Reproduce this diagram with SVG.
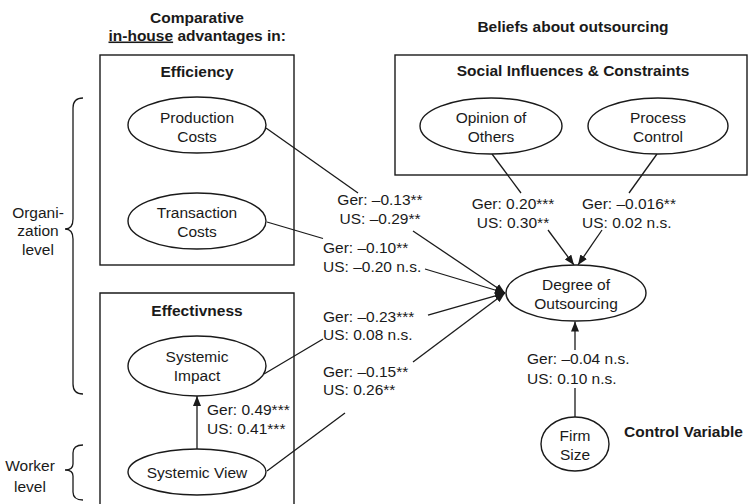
<svg xmlns="http://www.w3.org/2000/svg" width="749" height="504" viewBox="0 0 749 504">
<style>
text{font-family:"Liberation Sans",Arial,sans-serif;font-size:15.5px;fill:#1a1a1a}
.b{font-weight:bold}
.m{text-anchor:middle}
.box{fill:none;stroke:#1a1a1a;stroke-width:1.4}
.el{fill:#fff;stroke:#1a1a1a;stroke-width:1.4}
.ln{fill:none;stroke:#1a1a1a;stroke-width:1.3}
.ar{marker-end:url(#ah)}
</style>
<defs>
<marker id="ah" viewBox="0 0 10 8" refX="10" refY="4" markerWidth="10" markerHeight="8" orient="auto" markerUnits="userSpaceOnUse">
<path d="M0,0 L10,4 L0,8 z" fill="#1a1a1a"/>
</marker>
</defs>
<rect width="749" height="504" fill="#fff"/>

<g id="headers">
<text class="b m" x="197" y="22.5">Comparative</text>
<text class="b" x="108.5" y="40.5"><tspan text-decoration="underline">in-house</tspan> advantages in:</text>
<text class="b m" x="573" y="31.5">Beliefs about outsourcing</text>
<text class="b" x="624" y="436.5">Control Variable</text>
</g>

<g id="levels">
<path class="ln" d="M83,98 Q73,98 73,108 L73,219 Q73,229 65,229 Q73,229 73,239 L73,384 Q73,394 83,394"/>
<text class="m" x="38" y="217.5">Organi-</text>
<text class="m" x="38" y="236">zation</text>
<text class="m" x="38" y="254.5">level</text>
<path class="ln" d="M83,445 Q73,445 73,453 L73,464 Q73,470 65,470 Q73,470 73,476 L73,492 Q73,500 83,500"/>
<text class="m" x="30" y="470.5">Worker</text>
<text class="m" x="30" y="491.5">level</text>
</g>

<g id="efficiency">
<rect class="box" x="100" y="55" width="194" height="210"/>
<text class="b m" x="197" y="76.5">Efficiency</text>
</g>
<g id="effectiveness">
<path class="box" d="M100,510 L100,293 L294,293 L294,510"/>
<text class="b m" x="197" y="315.5">Effectivness</text>
</g>
<g id="social">
<rect class="box" x="395" y="55" width="352" height="120"/>
<text class="b m" x="573" y="75.5">Social Influences &amp; Constraints</text>
</g>

<g id="connectors">
<line class="ln" x1="266" y1="128" x2="358" y2="193"/>
<line class="ln ar" x1="413" y1="231" x2="505" y2="293"/>
<line class="ln" x1="267" y1="222" x2="323" y2="238.5"/>
<line class="ln ar" x1="425" y1="269" x2="505" y2="293"/>
<line class="ln" x1="264" y1="374" x2="323" y2="339"/>
<line class="ln ar" x1="428" y1="315" x2="505" y2="293"/>
<line class="ln" x1="267" y1="471" x2="345" y2="413"/>
<line class="ln ar" x1="413" y1="362" x2="505" y2="293"/>
<line class="ln" x1="492" y1="154" x2="521" y2="193"/>
<line class="ln ar" x1="548" y1="230" x2="574" y2="265"/>
<line class="ln" x1="657" y1="154" x2="629" y2="193"/>
<line class="ln ar" x1="602" y1="230" x2="578" y2="265"/>
<line class="ln" x1="575" y1="417" x2="575" y2="388"/>
<line class="ln ar" x1="575" y1="350" x2="575" y2="321.5"/>
<line class="ln ar" x1="197" y1="449" x2="197" y2="396"/>
</g>

<g id="production-costs">
<ellipse class="el" cx="197" cy="125" rx="69" ry="28"/>
<text class="m" x="197" y="122.5">Production</text>
<text class="m" x="197" y="141.5">Costs</text>
</g>
<g id="transaction-costs">
<ellipse class="el" cx="197" cy="221" rx="69" ry="28"/>
<text class="m" x="197" y="217.5">Transaction</text>
<text class="m" x="197" y="236.5">Costs</text>
</g>
<g id="systemic-impact">
<ellipse class="el" cx="197" cy="366" rx="69" ry="30"/>
<text class="m" x="197" y="361.5">Systemic</text>
<text class="m" x="197" y="380.5">Impact</text>
</g>
<g id="systemic-view">
<ellipse class="el" cx="197" cy="472" rx="69" ry="23"/>
<text class="m" x="197" y="477.5">Systemic View</text>
</g>
<g id="opinion-of-others">
<ellipse class="el" cx="491" cy="126" rx="71" ry="28"/>
<text class="m" x="491" y="122.5">Opinion of</text>
<text class="m" x="491" y="141.5">Others</text>
</g>
<g id="process-control">
<ellipse class="el" cx="658" cy="126" rx="70" ry="28"/>
<text class="m" x="658" y="122.5">Process</text>
<text class="m" x="658" y="141.5">Control</text>
</g>
<g id="degree-of-outsourcing">
<ellipse class="el" cx="576" cy="293" rx="70" ry="28"/>
<text class="m" x="576" y="290">Degree of</text>
<text class="m" x="576" y="309">Outsourcing</text>
</g>
<g id="firm-size">
<ellipse class="el" cx="575" cy="444" rx="34" ry="27"/>
<text class="m" x="575" y="441">Firm</text>
<text class="m" x="575" y="460">Size</text>
</g>

<g id="labels">
<text class="m" x="380" y="204.5">Ger: –0.13**</text>
<text class="m" x="380" y="223.5">US: –0.29**</text>
<text x="323" y="252.5">Ger: –0.10**</text>
<text x="323" y="271.5">US: –0.20 n.s.</text>
<text x="323" y="321.5">Ger: –0.23***</text>
<text x="323" y="339.5">US: 0.08 n.s.</text>
<text x="323" y="376.5">Ger: –0.15**</text>
<text x="323" y="394.5">US: 0.26**</text>
<text x="207" y="415">Ger: 0.49***</text>
<text x="207" y="434">US: 0.41***</text>
<text class="m" x="513" y="208.5">Ger: 0.20***</text>
<text class="m" x="513" y="227.5">US: 0.30**</text>
<text x="582" y="208.5">Ger: –0.016**</text>
<text x="582" y="227.5">US: 0.02 n.s.</text>
<text x="527" y="364">Ger: –0.04 n.s.</text>
<text x="527" y="383.5">US: 0.10 n.s.</text>
</g>
</svg>
